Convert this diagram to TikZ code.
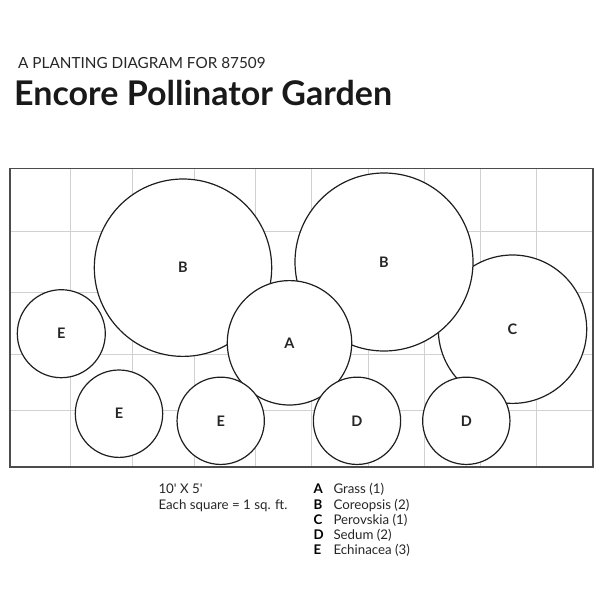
\documentclass[tikz,border=0pt]{standalone}
\usepackage{fontspec}
\setmainfont{Lato}
\begin{document}
\begin{tikzpicture}[x=1pt,y=-1pt,
  gridline/.style={draw=black!18, line width=1pt},
  border/.style={draw=black!70, line width=1.8pt},
  plant/.style={circle, draw=black!88, fill=white, line width=1.2pt, inner sep=0pt,
     minimum size=#1, font=\fontsize{14.5}{16}\selectfont\bfseries, text=black!85},
  legtxt/.style={anchor=base west, inner sep=0pt, font=\fontsize{13.3}{15}\selectfont, text=black!85},
  legkey/.style={anchor=base west, inner sep=0pt, font=\fontsize{13.3}{15}\selectfont\bfseries}]
\useasboundingbox (0,0) rectangle (600,600);
% title
\node[anchor=base west, inner sep=0pt, font=\fontsize{15.3}{18}\selectfont, text=black!85] (sub) at (18,68.3) {A PLANTING DIAGRAM FOR 87509};
\node[anchor=base west, inner sep=0pt, font=\fontsize{34}{38}\selectfont\bfseries, text=black!90] (title) at (14,105) {Encore Pollinator Garden};
% grid
\foreach \gx in {70.7,132.7,194.3,255.7,311.7,368.3,424,480.3,536.7}
  \draw[gridline] (\gx,168.5) -- (\gx,466.7);
\foreach \gy in {231,292.7,354.3,410.7}
  \draw[gridline] (10,\gy) -- (593,\gy);
% plants
\node[plant=148.4pt] (c) at (512.5,329.2) {C};
\node[plant=177.4pt] (b1) at (183,267.7) {B};
\node[plant=178pt] (b2) at (384,262) {B};
\node[plant=124.4pt] (a) at (289.5,342.8) {A};
\node[plant=88pt] (e1) at (61.3,333.7) {E};
\node[plant=87.4pt] (e2) at (119,413.7) {E};
\node[plant=87.3pt] (e3) at (220.7,420.8) {E};
\node[plant=87.3pt] (d1) at (357,420.8) {D};
\node[plant=87.3pt] (d2) at (466.3,420.8) {D};
% border
\draw[border] (10,168.5) rectangle (593,466.7);
% legend
\node[legtxt] (dim) at (158.3,493.5) {10\textquotesingle{} X 5\textquotesingle};
\node[legtxt] (sq) at (158.3,509) {Each square = 1 sq. ft.};
\foreach \k/\n/\yy in {A/Grass (1)/493.5, B/Coreopsis (2)/509, C/Perovskia (1)/524, D/Sedum (2)/539, E/Echinacea (3)/554.5}{
  \node[legkey] (key\k) at (313.3,\yy) {\k};
  \node[legtxt] (name\k) at (333.3,\yy) {\n};
}
\end{tikzpicture}
\end{document}
